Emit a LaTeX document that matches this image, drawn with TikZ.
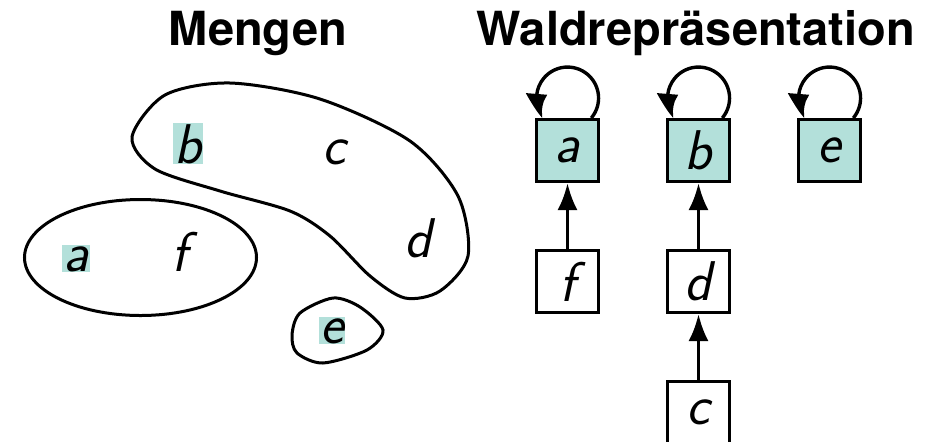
\documentclass[tikz,border=0pt]{standalone}
\usepackage{fontspec}
\newfontfamily\headfont{TeX Gyre Heros}
\usetikzlibrary{positioning,arrows.meta,bending}
\definecolor{wurzelfarbe}{RGB}{179,224,218}
\tikzset{
  elem/.style={font=\fontsize{28}{34}\selectfont\sffamily\itshape, inner sep=0.5pt, anchor=base},
  rep/.style={elem, fill=wurzelfarbe},
  knoten/.style={draw, line width=1.7pt, minimum size=30.8pt, inner sep=0pt,
    font=\fontsize{28}{34}\selectfont\sffamily\itshape},
  wurzel/.style={knoten, fill=wurzelfarbe},
  zeiger/.style={line width=1.7pt, -{Latex[length=13.5pt,width=10pt]}},
  titel/.style={font=\fontsize{23.5}{28}\selectfont\headfont\bfseries, anchor=base},
}
\begin{document}
\begin{tikzpicture}[x=0.5pt,y=0.5pt,line width=1.5pt]
\useasboundingbox (0,0) rectangle (945,441);
% Ueberschriften
\node[titel] (tm) at (258,396) {Mengen};
\node[titel] (tw) at (696,396) {Waldrepräsentation};
% Mengen als Kurven
\draw (140.5,183.5) ellipse [x radius=116, y radius=58];
\draw plot[smooth cycle] coordinates {(132,304) (165,346) (230,358) (320,342)
  (410,300) (458,245) (468,185) (440,150) (405,143) (370,165) (330,205)
  (290,230) (220,250) (155,272)};
\draw plot[smooth cycle] coordinates {(292,106) (300,128) (333,143) (360,134)
  (383,111) (367,91) (323,78) (297,88)};
\node[rep] (ma) at (76,170) {a};
\node[elem] (mf) at (180,170) {f};
\node[rep] (mb) at (188,278) {b};
\node[elem] (mc) at (334,277) {c};
\node[elem] (md) at (418,184) {d};
\node[rep] (me) at (332,98) {e};
% Wald
\node[wurzel] (a) at (567.5,290.5) {a};
\node[wurzel, right=33pt of a] (b) {b};
\node[wurzel, right=33pt of b] (e) {e};
\node[knoten, below=33pt of a] (f) {f};
\node[knoten, below=33pt of b] (d) {d};
\node[knoten, below=33pt of d] (c) {c};
\draw[zeiger] (f) -- (a);
\draw[zeiger] (d) -- (b);
\draw[zeiger] (c) -- (d);
% Wurzeln zeigen auf sich selbst
\foreach \w in {a,b,e}
  \draw[line width=1.7pt, -{Latex[length=13pt,width=11pt,bend]}] ([xshift=11.9pt]\w.north)
    arc[start angle=-40, end angle=220, radius=15.5pt];
\end{tikzpicture}
\end{document}
